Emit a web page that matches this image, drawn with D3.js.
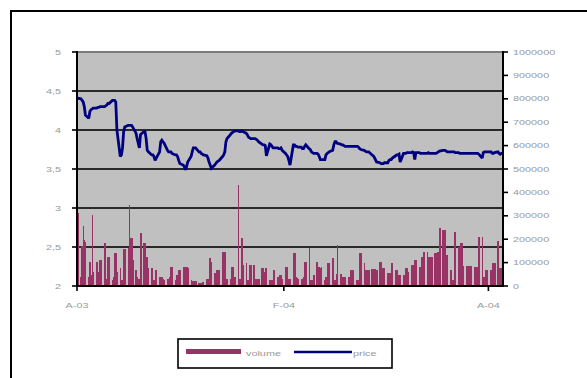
<!DOCTYPE html>
<html><head><meta charset="utf-8">
<script src="https://cdn.jsdelivr.net/npm/d3@7/dist/d3.min.js"></script>
<style>body{margin:0;background:#fff;overflow:hidden} svg{display:block}</style>
</head><body><svg id="c" width="587" height="378"></svg>
<script>
// ---- data ----
const firstDay = "2003-08-01";
const lastDay = "2004-08-13";
const axisEnd = "2004-08-14";
const price = [
4.41,
4.40,4.38,4.36,4.30,4.19, 4.15,4.24,4.26,4.27,4.28, 4.28,4.29,4.29,4.30,4.30, 4.30,4.31,4.32,4.34,4.34,
4.38,4.38,4.38,4.36,4.00, 3.66,3.68,3.77,3.98,4.04, 4.06,4.06,4.06,4.06,4.04, 3.96,3.89,3.83,3.77,3.94,
3.98,3.98,3.89,3.74,3.72, 3.68,3.68,3.66,3.61,3.64, 3.72,3.85,3.87,3.85,3.83, 3.74,3.72,3.72,3.72,3.70,
3.68,3.68,3.66,3.61,3.57, 3.55,3.53,3.49,3.53,3.59, 3.66,3.72,3.77,3.77,3.77, 3.72,3.72,3.70,3.69,3.68,
3.67,3.64,3.59,3.55,3.51, 3.55,3.57,3.59,3.60,3.61, 3.66,3.68,3.72,3.85,3.89, 3.94,3.96,3.97,3.98,3.99,
3.99,3.98,3.98,3.99,3.98, 3.96,3.94,3.91,3.90,3.89, 3.89,3.89,3.88,3.87,3.85, 3.82,3.81,3.81,3.80,3.67,
3.82,3.81,3.79,3.77,3.77, 3.77,3.76,3.76,3.77,3.74, 3.70,3.68,3.66,3.61,3.55,
3.81,3.81,3.79,3.79,3.78, 3.78,3.76,3.76,3.79,3.81, 3.76,3.75,3.72,3.71,3.70, 3.70,3.69,3.66,3.62,3.62,
3.62,3.68,3.70,3.71,3.72, 3.74,3.81,3.85,3.85,3.83, 3.82,3.81,3.81,3.80,3.79, 3.79,3.79,3.79,3.79,3.79,
3.79,3.79,3.78,3.76,3.75, 3.74,3.73,3.72,3.72,3.72, 3.68,3.67,3.65,3.62,3.59, 3.58,3.57,3.57,3.57,3.58,
3.58,3.61,3.62,3.62,3.64, 3.67,3.68,3.68,3.69,3.59, 3.70,3.70,3.70,3.71,3.71, 3.71,3.72,3.71,3.62,3.71,
3.71,3.70,3.70,3.70,3.70, 3.70,3.71,3.70,3.70,3.70, 3.70,3.70,3.71,3.72,3.73, 3.74,3.74,3.74,3.73,3.72,
3.72,3.72,3.72,3.72,3.71, 3.71,3.70,3.70,3.70,3.70, 3.70,3.70,3.70,3.70,3.70, 3.70,3.70,3.70,3.70,3.69,
3.64,3.71,3.72,3.72,3.72, 3.72,3.72,3.70,3.70,3.71, 3.72,3.70,3.69,3.70,3.70
];
const volumeK = [
310,
40,170,255,195,190, 40,104,45,303,60, 104,40,60,111,111, 184,30,25,124,124,
25,40,140,140,60, 75,25,25,160,160, 162,346,204,204,110, 68,40,30,30,225,
182,182,125,125,77, 75,25,25,68,68, 40,40,40,30,25, 28,28,40,83,83,
25,47,47,70,70, 83,83,83,83,75, 25,22,22,22,22, 11,11,11,15,18,
32,32,118,118,104, 54,54,68,68,68, 146,146,146,32,32, 32,83,83,40,40,
432,32,32,204,90, 97,25,25,90,90, 90,32,32,32,32, 75,75,60,75,75,
25,25,25,68,68, 40,32,47,47,30, 83,83,32,32,32,
140,140,40,35,30, 30,30,40,104,104, 161,26,26,26,47, 104,80,80,75,80,
26,40,97,97,97, 118,26,26,50,175, 50,40,40,40,40, 40,40,68,68,68,
26,26,26,140,140, 97,68,68,68,68, 72,72,72,72,68, 104,104,75,75,75,
55,55,55,97,97, 68,68,45,45,45, 45,45,75,75,60, 90,90,90,111,111,
83,83,125,125,147, 147,125,125,125,125, 140,140,147,147,246, 239,239,239,132,132,
68,26,26,232,232, 168,168,182,182,85, 85,85,85,85,85, 83,83,83,40,208,
208,40,40,70,70, 70,70,97,97,97, 194,75,75,75,75
];
const leftTicks = [2, 2.5, 3, 3.5, 4, 4.5, 5];
const leftTickLabels = ["2", "2,5", "3", "3,5", "4", "4,5", "5"];
const rightTicks = [0, 100000, 200000, 300000, 400000, 500000, 600000, 700000, 800000, 900000, 1000000];
const xTickDates = ["2003-08-01", "2004-02-01", "2004-08-01"];
const xTickLabels = ["A-03", "F-04", "A-04"];
const seriesNames = ["volume", "price"];
const seriesColors = ["#993366", "#000080"];

// ---- chart ----
const parse = d3.utcParse("%Y-%m-%d");
const days = d3.utcDay.range(parse(firstDay), d3.utcDay.offset(parse(lastDay), 1))
  .filter(d => d.getUTCDay() !== 0 && d.getUTCDay() !== 6);
const n = Math.min(days.length, price.length, volumeK.length);
const rows = d3.range(n).map(i => ({date: days[i], price: price[i], vol: volumeK[i] * 1000}));

const svg = d3.select("#c");
const L = 77, R = 503, T = 52, B = 286;
const x = d3.scaleUtc().domain([parse(firstDay), parse(axisEnd)]).range([L, R]);
const yL = d3.scaleLinear().domain([2, 5]).range([B, T]);
const yR = d3.scaleLinear().domain([0, 1000000]).range([B, T]);
const dayW = x(d3.utcDay.offset(parse(firstDay), 1)) - x(parse(firstDay));

// outer frame
svg.append("rect").attr("x", 11).attr("y", 11).attr("width", 640).attr("height", 420)
  .attr("fill", "#fff").attr("stroke", "#000").attr("stroke-width", 2);

// plot background
svg.append("rect").attr("x", L).attr("y", T).attr("width", R - L).attr("height", B - T).attr("fill", "#c0c0c0");

// gridlines
svg.append("g").selectAll("line").data(leftTicks.filter(v => v > 2)).join("line")
  .attr("x1", L).attr("x2", R).attr("y1", d => yL(d)).attr("y2", d => yL(d))
  .attr("stroke", d => d === 5 ? "#7a7a7a" : "#2a2a2a").attr("stroke-width", 2);

// volume bars
svg.append("g").attr("shape-rendering", "crispEdges").selectAll("rect").data(rows).join("rect")
  .attr("x", d => x(d.date)).attr("width", dayW + 0.45)
  .attr("y", d => yR(d.vol)).attr("height", d => yR(0) - yR(d.vol))
  .attr("fill", seriesColors[0]);

// price line
svg.append("path").datum(rows)
  .attr("d", d3.line().x(d => x(d.date) + dayW / 2).y(d => yL(d.price)))
  .attr("fill", "none").attr("stroke", seriesColors[1]).attr("stroke-width", 2.8)
  .attr("stroke-linejoin", "miter").attr("stroke-miterlimit", 2);

// axes
const axG = svg.append("g").attr("stroke", "#000").attr("stroke-width", 2);
axG.append("line").attr("x1", L).attr("x2", L).attr("y1", T - 1).attr("y2", B + 1);
axG.append("line").attr("x1", R).attr("x2", R).attr("y1", T - 1).attr("y2", B + 1);
axG.append("line").attr("x1", L - 1).attr("x2", R + 1).attr("y1", B).attr("y2", B);
axG.selectAll(".tl").data(leftTicks).join("line").attr("class", "tl")
  .attr("x1", L - 5).attr("x2", L).attr("y1", d => yL(d)).attr("y2", d => yL(d)).attr("stroke-width", 1.6);
axG.selectAll(".tr").data(rightTicks).join("line").attr("class", "tr")
  .attr("x1", R).attr("x2", R + 5).attr("y1", d => yR(d)).attr("y2", d => yR(d)).attr("stroke-width", 1.6);
axG.selectAll(".tx").data(xTickDates).join("line").attr("class", "tx")
  .attr("x1", d => x(parse(d))).attr("x2", d => x(parse(d))).attr("y1", B).attr("y2", B + 5).attr("stroke-width", 1.6);

// text helper (wide, short glyphs as in the reference)
function label(tx, ty, str, anchor) {
  svg.append("text").attr("transform", `translate(${tx},${ty}) scale(1.55,1)`)
    .attr("text-anchor", anchor).attr("font-family", "Liberation Sans, Arial, sans-serif")
    .attr("font-size", 7).attr("fill", "#999999").text(str);
}
leftTicks.forEach((v, i) => label(61, yL(v) + 2.5, leftTickLabels[i], "end"));
rightTicks.forEach(v => label(513, yR(v) + 2.5, String(v), "start"));
xTickDates.forEach((d, i) => label(x(parse(d)), 307.5, xTickLabels[i], "middle"));

// legend
svg.append("rect").attr("x", 178).attr("y", 339).attr("width", 214).attr("height", 29)
  .attr("fill", "#fff").attr("stroke", "#000").attr("stroke-width", 1.6);
svg.append("rect").attr("x", 186).attr("y", 349).attr("width", 55).attr("height", 5).attr("fill", seriesColors[0]);
label(246, 356, seriesNames[0], "start");
svg.append("line").attr("x1", 294).attr("x2", 352).attr("y1", 352).attr("y2", 352)
  .attr("stroke", seriesColors[1]).attr("stroke-width", 2.6);
label(353, 356, seriesNames[1], "start");
</script></body></html>
